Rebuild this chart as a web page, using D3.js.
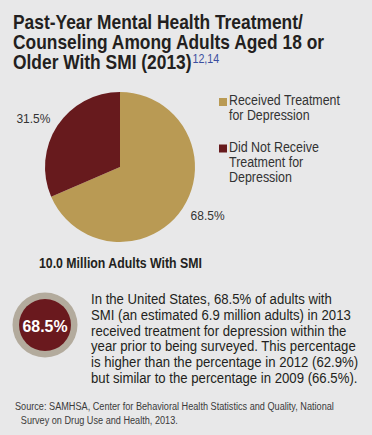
<!DOCTYPE html>
<html>
<head>
<meta charset="utf-8">
<script src="https://cdn.jsdelivr.net/npm/d3@7"></script>
<style>
  html, body { margin: 0; padding: 0; background: #e8e8e9; }
  svg { display: block; }
  text { font-family: "Liberation Sans", Arial, Helvetica, sans-serif; fill: #231f20; }
</style>
</head>
<body>
<div id="chart"></div>
<script>
// pie data
const categories = ["Received Treatment for Depression", "Did Not Receive Treatment for Depression"];
const percents = [68.5, 31.5];
const colours = ["#b99a54", "#671a1d"];
// legend labels, already split into lines
const legendLines = [["Received Treatment", "for Depression"], ["Did Not Receive", "Treatment for", "Depression"]];

const titleLines = ["Past-Year Mental Health Treatment/", "Counseling Among Adults Aged 18 or", "Older With SMI (2013)"];
const footnoteRefs = "12,14";
const totalLabel = "10.0 Million Adults With SMI";
const calloutValue = "68.5%";
const calloutLines = [
  "In the United States, 68.5% of adults with",
  "SMI (an estimated 6.9 million adults) in 2013",
  "received treatment for depression within the",
  "year prior to being surveyed. This percentage",
  "is higher than the percentage in 2012 (62.9%)",
  "but similar to the percentage in 2009 (66.5%)."
];
const sourceLines = [
  "Source: SAMHSA, Center for Behavioral Health Statistics and Quality, National",
  "Survey on Drug Use and Health, 2013."
];

const width = 372, height = 435;

const svg = d3.select("#chart").append("svg")
  .attr("width", width)
  .attr("height", height);

svg.append("rect").attr("width", width).attr("height", height).attr("fill", "#e8e8e9");

// width of a string in a throwaway text node
function measure(str, size, weight) {
  const t = svg.append("text")
    .attr("font-size", size)
    .attr("font-weight", weight || "normal")
    .text(str);
  const w = t.node().getComputedTextLength();
  t.remove();
  return w;
}

// the original uses a condensed Helvetica, so squeeze each text block
// horizontally until its first line is as wide as in the picture
function squeeze(g, x, y, str, size, weight, target) {
  const w = measure(str, size, weight);
  g.attr("transform", `translate(${x},${y}) scale(${target / w},1)`);
}

// title
const titleG = svg.append("g");
const title = titleG.append("text")
  .attr("font-size", "19.5px")
  .attr("font-weight", "bold");
titleLines.forEach((t, i) => {
  title.append("tspan").attr("x", 0).attr("y", 29 + i * 20).text(t);
});
title.append("tspan")
  .attr("dx", 1)
  .attr("dy", -6)
  .attr("font-size", "12px")
  .attr("font-weight", "normal")
  .style("fill", "#3a4ea0")
  .text(footnoteRefs);
squeeze(titleG, 13, 0, titleLines[0], "19.5px", "bold", 290);

// pie
const cx = 120, cy = 167, r = 75;
const pie = d3.pie().sort(null).value(d => d)(percents);
const arc = d3.arc().innerRadius(0).outerRadius(r);
const labelArc = d3.arc().innerRadius(100).outerRadius(100);

const g = svg.append("g").attr("transform", `translate(${cx},${cy})`);
g.selectAll("path")
  .data(pie)
  .join("path")
  .attr("d", arc)
  .attr("fill", (d, i) => colours[i]);

g.selectAll("text.pct")
  .data(pie)
  .join("text")
  .attr("class", "pct")
  .attr("x", d => labelArc.centroid(d)[0] + (d.index === 0 ? 4 : -3))
  .attr("y", d => labelArc.centroid(d)[1] + (d.index === 0 ? -2 : 11))
  .attr("text-anchor", "middle")
  .attr("font-size", "13.5px")
  .attr("textLength", 34)
  .attr("lengthAdjust", "spacingAndGlyphs")
  .style("fill", "#333")
  .text(d => d.value + "%");

// legend
const legY = [105.5, 152];
const legTargets = [111, 90];
legendLines.forEach((lines, i) => {
  svg.append("rect")
    .attr("x", 219).attr("y", legY[i] - 7.5)
    .attr("width", 8).attr("height", 8)
    .attr("fill", colours[i]);
  const lg = svg.append("g");
  const t = lg.append("text").attr("font-size", "14.5px").style("fill", "#333");
  lines.forEach((l, j) => {
    t.append("tspan").attr("x", 0).attr("y", legY[i] + j * 15).text(l);
  });
  squeeze(lg, 229, 0, lines[0], "14.5px", "normal", legTargets[i]);
});

const totG = svg.append("g");
totG.append("text")
  .attr("y", 268)
  .attr("font-size", "14px")
  .attr("font-weight", "bold")
  .text(totalLabel);
squeeze(totG, 39, 0, totalLabel, "14px", "bold", 163);

// callout
const badge = svg.append("g").attr("transform", "translate(45,325)");
badge.append("circle").attr("r", 32.5).attr("fill", "#b3ab9d");
badge.append("circle").attr("r", 26).attr("fill", "#6a191e");
const bg = badge.append("g");
bg.append("text")
  .attr("x", 0)
  .attr("text-anchor", "middle")
  .attr("font-size", "17px")
  .attr("font-weight", "bold")
  .style("fill", "#fff")
  .text(calloutValue);
squeeze(bg, 0, 6.5, calloutValue, "17px", "bold", 45);

const paraG = svg.append("g");
const para = paraG.append("text").attr("font-size", "14.5px").style("fill", "#231f20");
calloutLines.forEach((l, i) => {
  para.append("tspan").attr("x", 0).attr("y", 304 + i * 15.8).text(l);
});
squeeze(paraG, 91, 0, calloutLines[0], "14.5px", "normal", 241);

const srcG = svg.append("g");
const src = srcG.append("text").attr("font-size", "11px").style("fill", "#3a3a3a");
sourceLines.forEach((l, i) => {
  src.append("tspan").attr("x", i === 0 ? 0 : 7).attr("y", 410 + i * 14).text(l);
});
squeeze(srcG, 15, 0, sourceLines[0], "11px", "normal", 319);
</script>
</body>
</html>
